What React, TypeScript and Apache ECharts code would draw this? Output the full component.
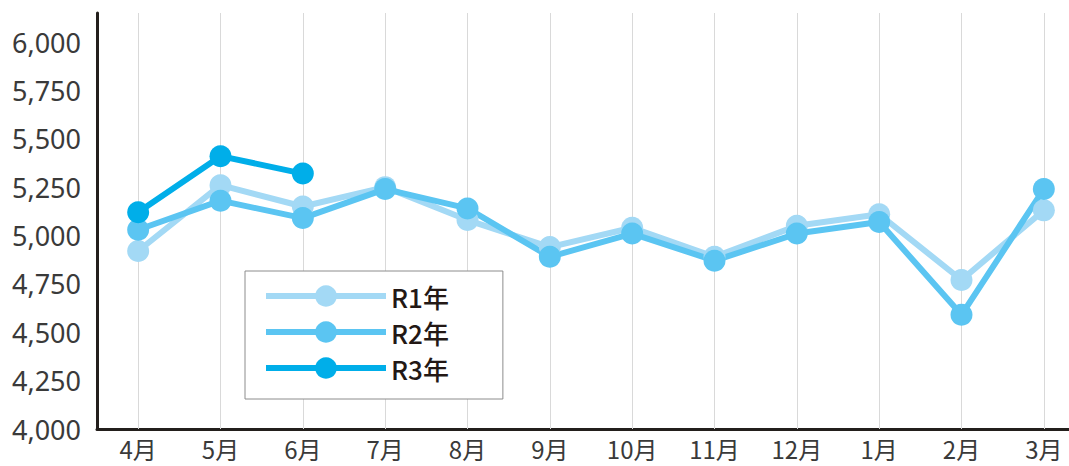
import React, { useEffect, useRef } from "react";
import * as echarts from "echarts";

const months = ["4月", "5月", "6月", "7月", "8月", "9月", "10月", "11月", "12月", "1月", "2月", "3月"];
const r1 = [4920, 5260, 5150, 5250, 5080, 4940, 5040, 4890, 5050, 5110, 4770, 5130];
const r2 = [5030, 5180, 5090, 5240, 5140, 4890, 5010, 4870, 5010, 5070, 4590, 5240];
const r3 = [5120, 5410, 5320, null, null, null, null, null, null, null, null, null];
const seriesNames = ["R1年", "R2年", "R3年"];
const colors = ["#a3d9f5", "#5bc5f2", "#00aee9"];

export default function App() {
  const ref = useRef<HTMLDivElement>(null);
  useEffect(() => {
    if (!ref.current) return;
    const chart = echarts.init(ref.current, null, { renderer: "svg" });
    const mk = (name: string, data: (number | null)[], color: string, extra: any = {}) => ({
      name,
      type: "line",
      data,
      symbol: "circle",
      symbolSize: 22,
      showSymbol: true,
      itemStyle: { color },
      lineStyle: { color, width: 6 },
      emphasis: { disabled: true },
      ...extra,
    });
    chart.setOption({
      animation: false,
      grid: { left: 97, top: 13, right: 0, height: 416, containLabel: false },
      legend: {
        data: seriesNames,
        orient: "vertical",
        left: 245,
        top: 271,
        padding: [12, 54, 18, 18],
        itemWidth: 120,
        itemHeight: 27,
        itemGap: 10,
        borderColor: "#8c8c8c",
        borderWidth: 1,
        backgroundColor: "#ffffff",
        lineStyle: { width: 6 },
        textStyle: {
          fontSize: 26,
          color: "#231815",
          fontWeight: 500,
          fontFamily: "'Noto Sans CJK JP', 'Noto Sans', sans-serif",
        },
      },
      xAxis: {
        type: "category",
        data: months,
        boundaryGap: true,
        axisLine: { show: true, lineStyle: { color: "#231f1c", width: 3 } },
        axisTick: { show: false },
        splitLine: { show: false },
        axisLabel: {
          margin: 7,
          fontSize: 24,
          color: "#3a3a3a",
          fontFamily: "'Noto Sans CJK JP', sans-serif",
        },
      },
      yAxis: {
        type: "value",
        min: 4000,
        max: 6150,
        interval: 250,
        axisLine: { show: true, lineStyle: { color: "#231f1c", width: 3 } },
        axisTick: { show: false },
        splitLine: { show: false },
        axisLabel: {
          margin: 16,
          fontSize: 27,
          color: "#3a3a3a",
          fontFamily: "'Noto Sans', sans-serif",
          formatter: (v: number) => (v % 250 === 0 ? v.toLocaleString("en-US") : ""),
        },
      },
      series: [
        mk(seriesNames[0], r1, colors[0], {
          markLine: {
            silent: true,
            z: 1,
            symbol: "none",
            label: { show: false },
            lineStyle: { color: "#d9d9d9", width: 1, type: "solid" },
            emphasis: { disabled: true },
            data: months.map((m) => ({ xAxis: m })),
          },
        }),
        mk(seriesNames[1], r2, colors[1]),
        mk(seriesNames[2], r3, colors[2]),
      ],
    });
    return () => chart.dispose();
  }, []);
  return (
    <div style={{ position: "fixed", left: 0, top: 0, width: 1069, height: 466, overflow: "hidden", background: "#fff" }}>
      <div ref={ref} style={{ width: 1085, height: 466 }} />
    </div>
  );
}
